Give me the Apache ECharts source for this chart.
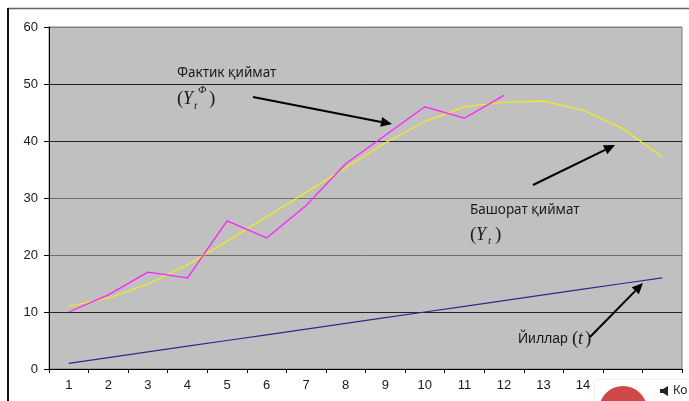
<!DOCTYPE html>
<html>
<head>
<meta charset="utf-8">
<script src="https://cdn.jsdelivr.net/npm/echarts@6/dist/echarts.min.js"></script>
<style>html,body{margin:0;padding:0;background:#fff}#c{width:689px;height:401px}</style>
</head>
<body>
<div id="c"></div>
<script>
// ---- data ----
var categories = ['1','2','3','4','5','6','7','8','9','10','11','12','13','14','15','16'];
var actualValues = [10, 13, 17, 16, 26, 23, 28.7, 36, 41, 46, 44, 48];           // Фактик қиймат
var forecastValues = [11, 12.4, 14.9, 18.3, 22.4, 26.7, 31, 35.3, 39.7, 43.4, 46, 46.8, 47, 45.4, 42.2, 37.2]; // Башорат қиймат
var yearValues = [1, 2, 3, 4, 5, 6, 7, 8, 9, 10, 11, 12, 13, 14, 15, 16];          // Йиллар (t)
var yTicks = {min: 0, max: 60, interval: 10};

var chart = echarts.init(document.getElementById('c'), null, {renderer: 'canvas'});

function arrow(x1, y1, x2, y2) {
  var dx = x2 - x1, dy = y2 - y1, L = Math.sqrt(dx*dx + dy*dy);
  var ux = dx / L, uy = dy / L, hl = 11, hw = 5;
  var bx = x2 - ux*hl, by = y2 - uy*hl;
  return [
    {type: 'line', z: 50, shape: {x1: x1, y1: y1, x2: bx, y2: by}, style: {stroke: '#000', lineWidth: 2}},
    {type: 'polygon', z: 50, shape: {points: [[x2, y2], [bx - uy*hw, by + ux*hw], [bx + uy*hw, by - ux*hw]]}, style: {fill: '#000'}}
  ];
}
function txt(x, y, s, font) {
  return {type: 'text', z: 50, x: x, y: y, style: {text: s, font: font, fill: '#1a1a1a', textVerticalAlign: 'middle', textAlign: 'left'}};
}
var serif = '"Liberation Serif", "DejaVu Serif", serif';
var sans = '"Noto Sans", "Open Sans", sans-serif';

var graphics = [
  // outer frame
  {type: 'line', shape: {x1: 8, y1: 8.5, x2: 689, y2: 8.5}, style: {stroke: '#666', lineWidth: 1.5}},
  {type: 'line', shape: {x1: 8, y1: 8, x2: 8, y2: 401}, style: {stroke: '#111', lineWidth: 2}},
  // annotation 1
  txt(177, 73, 'Фактик қиймат', '13.5px ' + sans),
  txt(177, 99, '(', '19px ' + serif),
  txt(183, 99, 'Y', 'italic 18px ' + serif),
  txt(194, 106, 't', 'italic 11px ' + serif),
  txt(198, 90, 'Φ', 'italic 11px ' + serif),
  txt(209, 99, ')', '19px ' + serif),
  // annotation 2
  txt(470, 210, 'Башорат қиймат', '13.5px ' + sans),
  txt(470, 235, '(', '19px ' + serif),
  txt(476, 235, 'Y', 'italic 18px ' + serif),
  txt(488, 241, 't', 'italic 11px ' + serif),
  txt(495, 235, ')', '19px ' + serif),
  // annotation 3
  txt(518, 339, 'Йиллар', '14px "Liberation Sans", Arial, sans-serif'),
  txt(572, 339, '(', '19px ' + serif),
  txt(578, 339, 't', 'italic 18px ' + serif),
  txt(585, 339, ')', '19px ' + serif)
];
graphics = graphics.concat(arrow(253, 97, 392, 124));
graphics = graphics.concat(arrow(533, 185, 615, 145));
graphics = graphics.concat(arrow(590, 337, 643, 283));
// overlay popup in corner
graphics.push({type: 'rect', z: 90, shape: {x: 595, y: 380, width: 100, height: 30, r: 3}, style: {fill: '#fff', shadowBlur: 3, shadowColor: 'rgba(0,0,0,0.15)'}});
graphics.push({type: 'circle', z: 91, shape: {cx: 623, cy: 410, r: 24}, style: {fill: '#cf4848'}});
graphics.push({type: 'polygon', z: 91, shape: {points: [[660, 389], [663, 389], [668, 386], [668, 396], [663, 393], [660, 393]]}, style: {fill: '#222'}});
graphics.push({type: 'text', z: 91, x: 673, y: 391, style: {text: 'Ко', font: '12px ' + sans, fill: '#222', textVerticalAlign: 'middle'}});

var option = {
  backgroundColor: '#fff',
  animation: false,
  grid: {left: 49, right: 7, top: 27, bottom: 32, show: true, backgroundColor: '#c0c0c0', borderColor: '#808080', borderWidth: 1},
  xAxis: {
    type: 'category', data: categories, boundaryGap: true,
    axisLine: {lineStyle: {color: '#000', width: 1}},
    axisTick: {show: true, length: 4, lineStyle: {color: '#000'}},
    axisLabel: {color: '#1a1a1a', fontSize: 13, fontFamily: '"Liberation Sans", Arial, sans-serif', margin: 10, interval: 0},
    splitLine: {show: false}
  },
  yAxis: {
    type: 'value', min: yTicks.min, max: yTicks.max, interval: yTicks.interval,
    axisLine: {show: true, lineStyle: {color: '#000', width: 1}},
    axisTick: {show: true, length: 5, lineStyle: {color: '#000'}},
    axisLabel: {color: '#1a1a1a', fontSize: 13, fontFamily: '"Liberation Sans", Arial, sans-serif', margin: 11},
    splitLine: {show: true, lineStyle: {color: ['#000', '#222', '#6e6e6e', '#6e6e6e', '#222', '#222', '#808080'], width: 1}}
  },
  series: [
    {name: 'Фактик қиймат', type: 'line', data: actualValues, showSymbol: false, lineStyle: {color: '#ff22ff', width: 1.3}, z: 4},
    {name: 'Башорат қиймат', type: 'line', data: forecastValues, showSymbol: false, lineStyle: {color: '#f4f400', width: 1.1}, z: 3},
    {name: 'Йиллар', type: 'line', data: yearValues, showSymbol: false, lineStyle: {color: '#2b2b8c', width: 1.2}, z: 3}
  ],
  graphic: graphics
};
chart.setOption(option);
</script>
</body>
</html>
